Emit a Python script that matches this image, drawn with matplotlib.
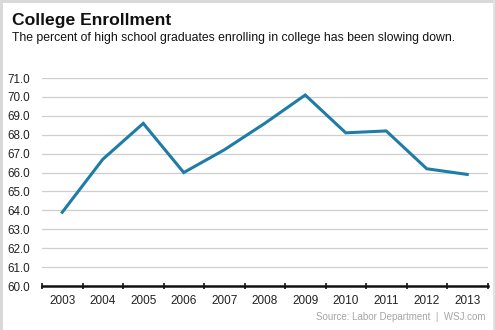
import matplotlib
matplotlib.use("Agg")
import matplotlib.pyplot as plt
from matplotlib.patches import Rectangle
import numpy as np

years = ["2003", "2004", "2005", "2006", "2007", "2008", "2009", "2010", "2011", "2012", "2013"]
enrollment = [63.9, 66.7, 68.6, 66.0, 67.2, 68.6, 70.1, 68.1, 68.2, 66.2, 65.9]
y_ticks = [60.0, 61.0, 62.0, 63.0, 64.0, 65.0, 66.0, 67.0, 68.0, 69.0, 70.0, 71.0]

title = "College Enrollment"
subtitle = "The percent of high school graduates enrolling in college has been slowing down."
source = "Source: Labor Department  |  WSJ.com"

plt.rcParams['font.family'] = ['Liberation Sans', 'DejaVu Sans']

W, H = 495, 330
fig = plt.figure(figsize=(W / 100, H / 100), dpi=100)
fig.patch.set_facecolor("white")

# light gray frame on the left/top/right edges
fig.add_artist(Rectangle((0, 0), 3 / W, 1, transform=fig.transFigure, color="#d9d9d9", lw=0, zorder=0))
fig.add_artist(Rectangle((0, 1 - 3 / H), 1, 3 / H, transform=fig.transFigure, color="#d9d9d9", lw=0, zorder=0))
fig.add_artist(Rectangle((1 - 2 / W, 0), 2 / W, 1, transform=fig.transFigure, color="#e3e3e3", lw=0, zorder=0))

left, right = 42 / W, 487.5 / W
bottom, top = 1 - 286 / H, 1 - 78 / H
ax = fig.add_axes([left, bottom, right - left, top - bottom])

x = np.arange(len(years))
ax.plot(x, enrollment, color="#1f7ca6", lw=2.2, solid_joinstyle="miter", zorder=3, clip_on=False)

ax.set_xlim(-0.5, len(years) - 0.5)
ax.set_ylim(60, 71)
ax.set_yticks(y_ticks)
ax.set_yticklabels([f"{v:.1f}" for v in y_ticks], fontsize=8.4, color="#222222")
ax.set_xticks(x)
ax.set_xticklabels(years, fontsize=8.5, color="#222222")
ax.set_xticks(np.arange(-0.5, len(years)), minor=True)

ax.tick_params(axis="y", length=0, pad=9)
ax.tick_params(axis="x", which="major", length=0, pad=6.5)
ax.tick_params(axis="x", which="minor", length=4, width=1.2, direction="inout", color="#111111")

for s in ["top", "right", "left"]:
    ax.spines[s].set_visible(False)
ax.spines["bottom"].set_linewidth(1.8)
ax.spines["bottom"].set_color("#111111")
ax.spines["bottom"].set_zorder(4)

ax.grid(axis="y", color="#cfcfcf", lw=0.9)
ax.set_axisbelow(True)

fig.text(12 / W, 1 - 20.5 / H, title, fontsize=12.6, fontweight="bold", color="#111111", va="center", ha="left")
fig.text(12 / W, 1 - 38.5 / H, subtitle, fontsize=8.8, color="#111111", va="center", ha="left")
fig.text(485 / W, 1 - 317 / H, source, fontsize=7.0, color="#a5a5a5", va="center", ha="right")

fig.savefig("out.png", dpi=100, facecolor=fig.get_facecolor())
